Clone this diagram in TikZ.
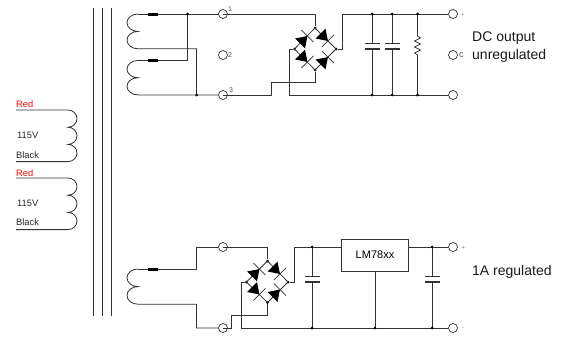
\documentclass[tikz,border=0pt]{standalone}
\usepackage{fontspec}
\setmainfont{Liberation Sans}
\definecolor{wire}{gray}{0.2}
\tikzset{
  wireline/.style={draw=wire,line width=0.8pt},
  term/.style={circle,draw=wire,fill=white,line width=0.7pt,minimum size=9pt,inner sep=0pt},
  dotn/.style={circle,fill=black,minimum size=3pt,inner sep=0pt},
  fusebar/.style={line width=3pt,black},
  plate/.style={line width=0.7pt,wire},
  thickplate/.style={line width=1.7pt,wire},
  small/.style={font=\fontsize{7}{8}\selectfont,text=black!70,inner sep=0pt},
  big/.style={font=\fontsize{14}{16}\selectfont,inner sep=0pt,text=black!90},
  mid/.style={font=\fontsize{9.3}{11}\selectfont,inner sep=0pt,anchor=west,text=black!85},
  redlabel/.style={mid,text=red},
  boxn/.style={draw=wire,fill=white,line width=0.8pt,inner sep=0pt,font=\fontsize{11}{13}\selectfont,minimum width=67pt,minimum height=32pt},
}
% diode: #1 centre, #2 angle of conduction
\newcommand{\diodemark}[2]{%
  \begin{scope}[shift={(#1)},rotate=#2]
    \fill[black] (-7,-7) -- (3.5,0) -- (-7,7) -- cycle;
    \draw[wire,line width=0.7pt] (3.5,-8.5) -- (3.5,8.5);
  \end{scope}}
\begin{document}
\begin{tikzpicture}[x=1pt,y=-1pt]
\useasboundingbox (0,0) rectangle (564,343);
\fill[white] (0,0) rectangle (564,343);
% core
\foreach \x in {93,102,111} \draw[wireline] (\x,8) -- (\x,316);
% primary coils
\foreach \a/\lr/\lv/\lb in {110/104/135/155,178/173/203/222}{
  \draw[wireline] (16,\a) -- (68,\a)
    arc[start angle=-90,end angle=90,x radius=9,y radius=8.6]
    arc[start angle=-90,end angle=90,x radius=9,y radius=8.6]
    arc[start angle=-90,end angle=90,x radius=9,y radius=8.6] -- (16,\a+51.6);
  \node[redlabel] at (16,\lr) {Red};
  \node[mid] at (17,\lv) {115V};
  \node[mid] at (16,\lb) {Black};
}
% top section
\node[term] (t1) at (223,14) {};
\node[term] (t2) at (223,55) {};
\node[term] (t3) at (223,95) {};
\node[term] (op) at (453,14) {};
\node[term] (oc) at (453,55) {};
\node[term] (on) at (453,95) {};
\node[small,anchor=west] at (228,9) {1};
\node[small,anchor=west] at (228,55) {2};
\node[small,anchor=west] at (229,90) {3};
\node[small,anchor=west,font=\fontsize{5}{6}\selectfont] at (461,15) {+};
\node[small,anchor=west,font=\fontsize{5}{6}\selectfont] at (461,96) {-};
\node[small,anchor=west,font=\fontsize{9}{10}\selectfont] at (459,55) {c};
\draw[wireline] (138,14) arc[start angle=-90,end angle=-270,x radius=11,y radius=8.7]
  arc[start angle=-90,end angle=-270,x radius=11,y radius=8.7] -- (196.5,48.8) -- (196.5,95);
\draw[wireline] (138,60.5) arc[start angle=-90,end angle=-270,x radius=11,y radius=8.6]
  arc[start angle=-90,end angle=-270,x radius=11,y radius=8.6] -- (t3);
\draw[wireline] (138,14) -- (t1);
\draw[wireline] (138,60.5) -- (187.5,60.5) -- (187.5,14);
\draw[fusebar] (148,14) -- (158,14);
\draw[fusebar] (148,60.5) -- (158,60.5);
\node[dotn] (j1) at (187.5,14) {};
\node[dotn] (j2) at (196.5,95) {};
% bridge 1
\node[dotn] (bt) at (315,28) {};
\node[dotn] (bl) at (294.5,49) {};
\node[dotn] (br) at (336,49) {};
\node[dotn] (bb) at (315,70) {};
\draw[wireline] (bt.center) -- (bl.center) -- (bb.center) -- (br.center) -- cycle;
\diodemark{305,38.5}{45}
\diodemark{325.5,38.5}{-45}
\diodemark{305,59.5}{-45}
\diodemark{325.5,59.5}{45}
\draw[wireline] (t1.center) -- (315,14) -- (bt);
\draw[wireline] (bb) -- (315,82.5) -- (271.5,82.5) -- (271.5,95) -- (t3.center);
\draw[wireline] (bl) -- (289,49) -- (289,95) -- (on);
\draw[wireline] (br) -- (342,49) -- (342,14) -- (op);
\foreach \x in {372,392}{
  \draw[wireline] (\x,14) -- (\x,43) (\x,49) -- (\x,95);
  \draw[plate] (\x-7.5,43) -- (\x+7.5,43);
  \draw[thickplate] (\x-7.5,49) -- (\x+7.5,49);
  \node[dotn] at (\x,14) {};
  \node[dotn] at (\x,95) {};
}
\draw[wireline] (417.5,14) -- (417.5,36) -- (420.5,38) -- (414.5,41) -- (420.5,44) -- (414.5,47) -- (420.5,50) -- (414.5,53) -- (417.5,55) -- (417.5,95);
\node[dotn] at (417.5,14) {};
\node[dotn] at (417.5,95) {};
\node[big,anchor=west] at (472,38) {DC output};
\node[big,anchor=west] at (472,55.5) {unregulated};
% bottom section
\node[term] (t4) at (223,247) {};
\node[term] (t5) at (223,328) {};
\node[term] (op2) at (453,247) {};
\node[term] (on2) at (453,328) {};
\node[small,anchor=west,font=\fontsize{5}{6}\selectfont] at (462,248) {+};
\node[small,anchor=west,font=\fontsize{5}{6}\selectfont] at (462,329) {-};
\draw[wireline] (138,269) arc[start angle=-90,end angle=-270,x radius=11,y radius=8.8]
  arc[start angle=-90,end angle=-270,x radius=11,y radius=8.8] -- (196.5,304.2) -- (196.5,328) -- (t5);
\draw[wireline] (138,269) -- (196.5,269) -- (196.5,247) -- (t4);
\draw[fusebar] (148,269) -- (158,269);
\node[dotn] (ct) at (267.5,261) {};
\node[dotn] (cl) at (246.5,282) {};
\node[dotn] (cr) at (288,282) {};
\node[dotn] (cb) at (267.5,302.5) {};
\draw[wireline] (ct.center) -- (cl.center) -- (cb.center) -- (cr.center) -- cycle;
\diodemark{257,271.5}{45}
\diodemark{277.5,271.5}{-45}
\diodemark{257,292}{-45}
\diodemark{277.5,292}{45}
\draw[wireline] (t4.center) -- (267.5,247) -- (ct);
\draw[wireline] (t5.center) -- (231.5,328) -- (231.5,315.5) -- (267.5,315.5) -- (cb);
\draw[wireline] (cl) -- (241,282) -- (241,328) -- (on2);
\node[boxn] (reg) at (375,255) {LM78xx};
\draw[wireline] (cr) -- (294,282) -- (294,247) -- (reg.west |- 0,247);
\draw[wireline] (reg.east |- 0,247) -- (op2);
\draw[wireline] (reg.south) -- (375,328);
\foreach \x in {312,432}{
  \draw[wireline] (\x,247) -- (\x,276) (\x,282) -- (\x,328);
  \draw[plate] (\x-7.5,276) -- (\x+7.5,276);
  \draw[thickplate] (\x-7.5,282) -- (\x+7.5,282);
  \node[dotn] at (\x,247) {};
  \node[dotn] at (\x,328) {};
}
\node[dotn] at (375,328) {};
\node[big,anchor=west] at (472,272) {1A regulated};
\end{tikzpicture}
\end{document}
